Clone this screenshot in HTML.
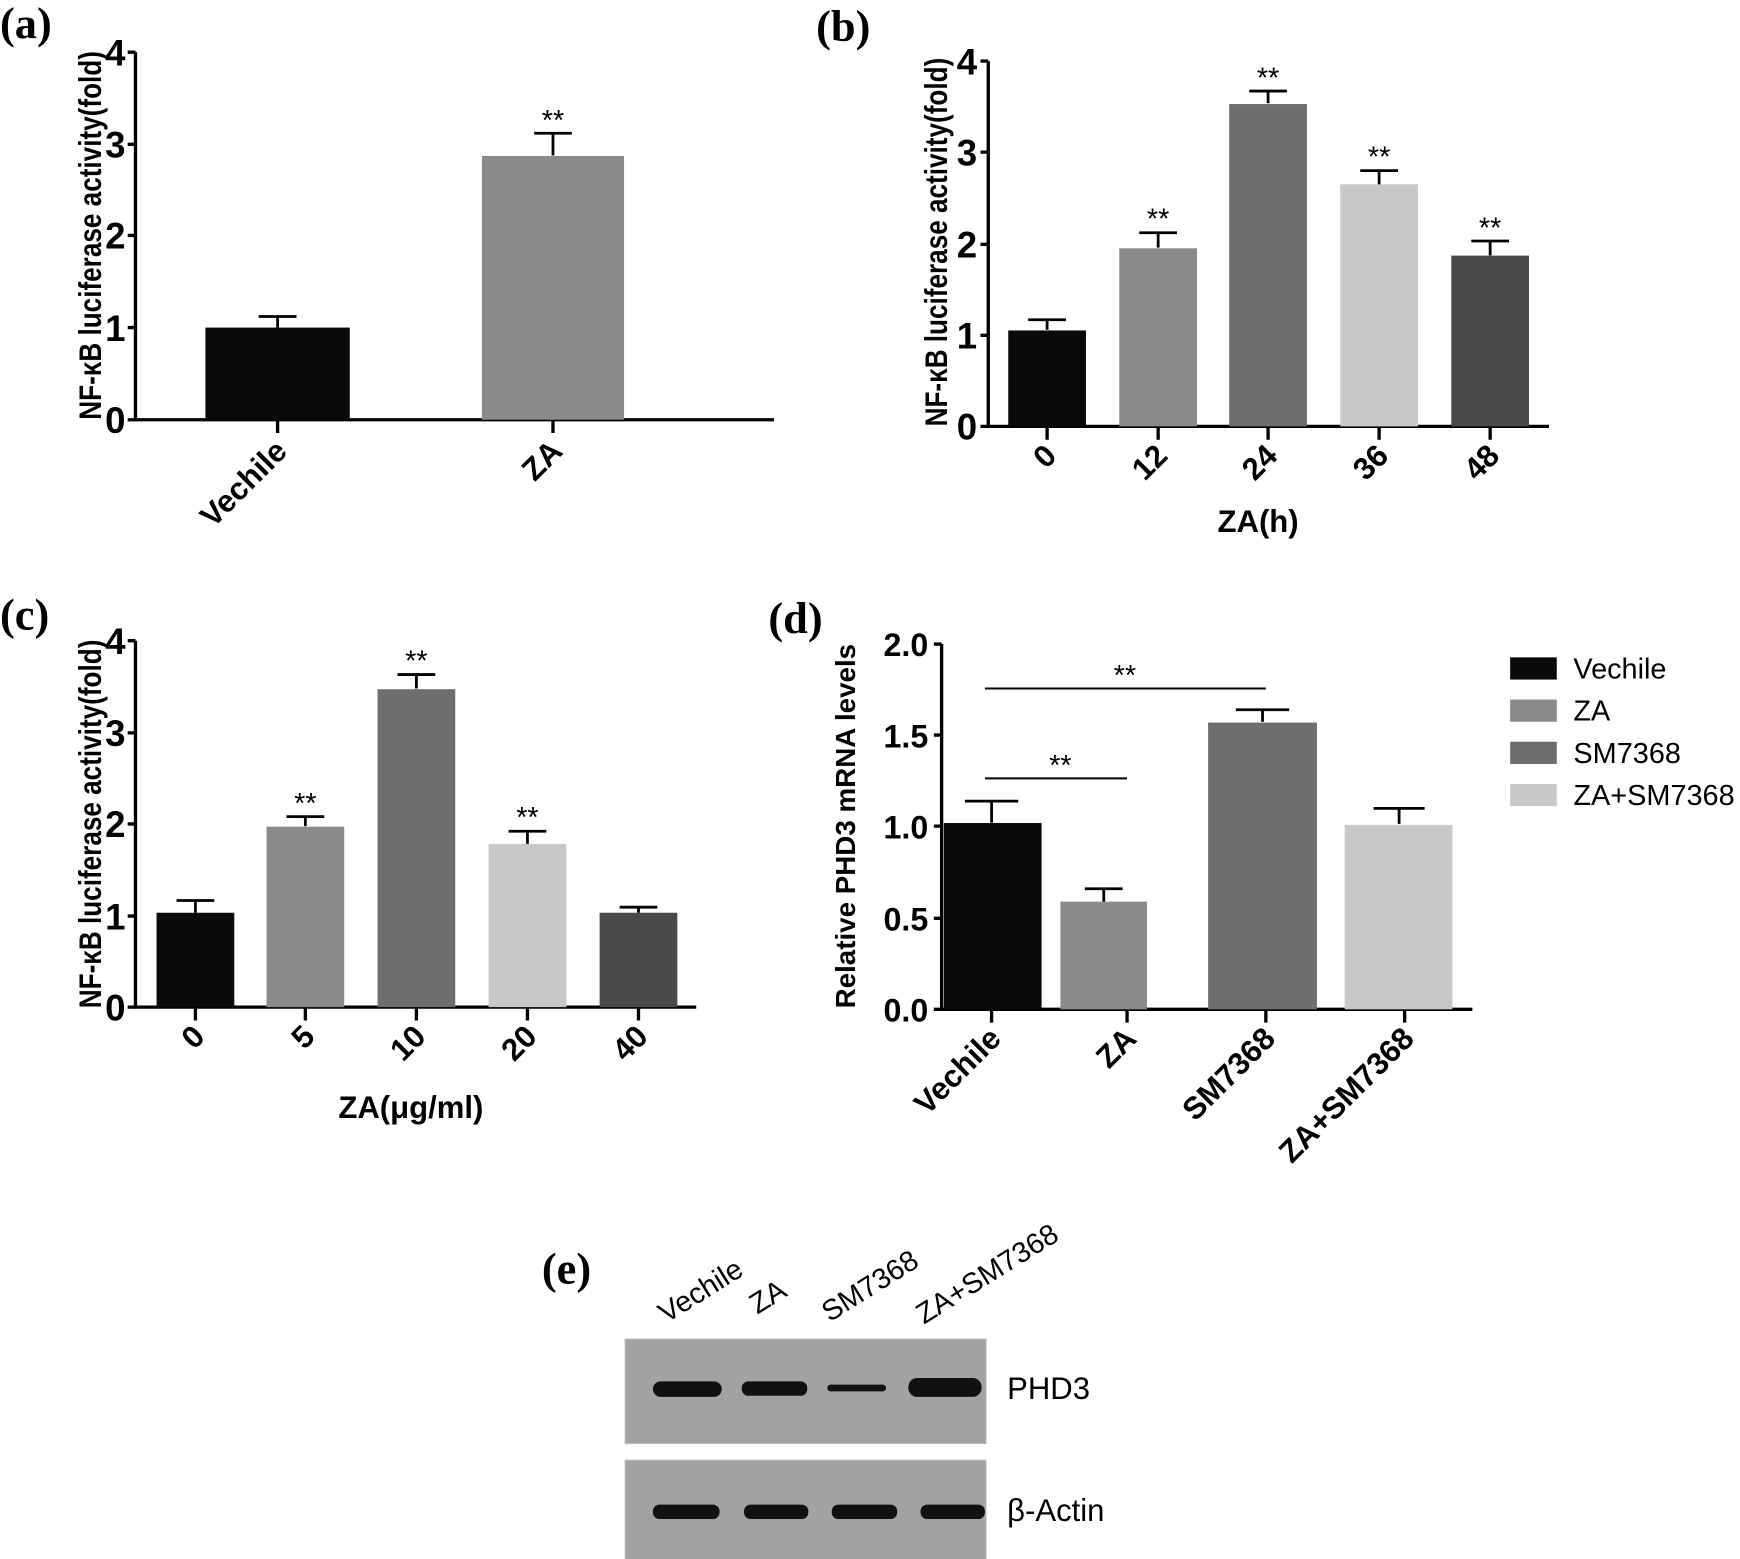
<!DOCTYPE html>
<html><head><meta charset="utf-8"><style>html,body{margin:0;padding:0;background:#fff}svg{display:block}</style></head><body>
<svg width="1740" height="1559" viewBox="0 0 1567 1404" xmlns="http://www.w3.org/2000/svg" font-family="Liberation Sans, Arial, sans-serif">
<g font-family="Liberation Serif, serif" font-weight="bold" font-size="40">
<text x="0" y="34">(a)</text><text x="735" y="37">(b)</text><text x="0" y="567">(c)</text><text x="692" y="570">(d)</text><text x="488" y="1156">(e)</text>
</g>
<!-- (a) -->
<g stroke="#000" stroke-width="3" fill="none">
<path d="M122,47V378H697"/>
<path d="M115,47H122M115,130H122M115,212H122M115,295H122M115,378H122"/>
<path d="M250,378V390M498,378V390"/>
</g>
<rect x="185" y="295" width="130" height="83" fill="#0a0a0a"/>
<rect x="434" y="140.5" width="128" height="237.5" fill="#8a8a8a"/>
<g stroke="#000" stroke-width="2.5"><path d="M250,295V285M233,285H267M498,140V120M481,120H515"/></g>
<text x="498" y="117" font-size="26" text-anchor="middle">**</text>
<g font-size="33" font-weight="bold" text-anchor="end">
<text x="113" y="59">4</text><text x="113" y="142">3</text><text x="113" y="224">2</text><text x="113" y="307">1</text><text x="113" y="390">0</text>
<text transform="translate(260,408) rotate(-45)" font-size="28">Vechile</text>
<text transform="translate(508,408) rotate(-45)" font-size="28">ZA</text>
</g>
<text transform="translate(91,212) rotate(-90)" font-size="28" font-weight="bold" text-anchor="middle" textLength="332" lengthAdjust="spacingAndGlyphs">NF-κB luciferase activity(fold)</text>
<!-- (b) -->
<g stroke="#000" stroke-width="3" fill="none">
<path d="M890,55V384H1395"/>
<path d="M883,55H890M883,137H890M883,220H890M883,302H890M883,384H890"/>
<path d="M943,384V396M1043,384V396M1142,384V396M1242,384V396M1342,384V396"/>
</g>
<rect x="908" y="297.6" width="70" height="86.4" fill="#0a0a0a"/>
<rect x="1008" y="223.6" width="70" height="160.4" fill="#8a8a8a"/>
<rect x="1107" y="93.7" width="70" height="290.3" fill="#6e6e6e"/>
<rect x="1207" y="166" width="70" height="218" fill="#c8c8c8"/>
<rect x="1307" y="230.2" width="70" height="153.8" fill="#4a4a4a"/>
<g stroke="#000" stroke-width="2.5"><path d="M943,297V288M926,288H960M1043,223V209.6M1026,209.6H1060M1142,93V82M1125,82H1159M1242,166V153.7M1225,153.7H1259M1342,230V217M1325,217H1359"/></g>
<g font-size="26" text-anchor="middle"><text x="1043" y="206">**</text><text x="1142" y="79">**</text><text x="1242" y="150">**</text><text x="1342" y="214">**</text></g>
<g font-size="33" font-weight="bold" text-anchor="end">
<text x="880" y="67">4</text><text x="880" y="149">3</text><text x="880" y="232">2</text><text x="880" y="314">1</text><text x="880" y="396">0</text>
<g font-size="28">
<text transform="translate(953,412) rotate(-45)">0</text>
<text transform="translate(1053,412) rotate(-45)">12</text>
<text transform="translate(1152,412) rotate(-45)">24</text>
<text transform="translate(1252,412) rotate(-45)">36</text>
<text transform="translate(1352,412) rotate(-45)">48</text>
</g></g>
<text x="1133" y="479" font-size="28" font-weight="bold" text-anchor="middle">ZA(h)</text>
<text transform="translate(853,218) rotate(-90)" font-size="28" font-weight="bold" text-anchor="middle" textLength="332" lengthAdjust="spacingAndGlyphs">NF-κB luciferase activity(fold)</text>
<!-- (c) -->
<g stroke="#000" stroke-width="3" fill="none">
<path d="M122,577V907H627"/>
<path d="M115,577H122M115,660H122M115,742H122M115,825H122M115,907H122"/>
<path d="M176,907V919M275,907V919M375,907V919M475,907V919M575,907V919"/>
</g>
<rect x="141" y="822" width="70" height="85" fill="#0a0a0a"/>
<rect x="240" y="744.5" width="70" height="162.5" fill="#8a8a8a"/>
<rect x="340" y="620.7" width="70" height="286.3" fill="#6e6e6e"/>
<rect x="440" y="760" width="70" height="147" fill="#c8c8c8"/>
<rect x="540" y="822" width="70" height="85" fill="#4a4a4a"/>
<g stroke="#000" stroke-width="2.5"><path d="M176,822V811M159,811H193M275,744V735.4M258,735.4H292M375,620V607.5M358,607.5H392M475,760V748.6M458,748.6H492M575,822V817M558,817H592"/></g>
<g font-size="26" text-anchor="middle"><text x="275" y="732">**</text><text x="375" y="604">**</text><text x="475" y="745">**</text></g>
<g font-size="33" font-weight="bold" text-anchor="end">
<text x="113" y="589">4</text><text x="113" y="672">3</text><text x="113" y="754">2</text><text x="113" y="837">1</text><text x="113" y="919">0</text>
<g font-size="28">
<text transform="translate(186,935) rotate(-45)">0</text>
<text transform="translate(285,935) rotate(-45)">5</text>
<text transform="translate(385,935) rotate(-45)">10</text>
<text transform="translate(485,935) rotate(-45)">20</text>
<text transform="translate(585,935) rotate(-45)">40</text>
</g></g>
<text x="370" y="1007" font-size="28" font-weight="bold" text-anchor="middle">ZA(μg/ml)</text>
<text transform="translate(91,742) rotate(-90)" font-size="28" font-weight="bold" text-anchor="middle" textLength="332" lengthAdjust="spacingAndGlyphs">NF-κB luciferase activity(fold)</text>
<!-- (d) -->
<g stroke="#000" stroke-width="3" fill="none">
<path d="M848,580V909H1326"/>
<path d="M841,580H848M841,662H848M841,744H848M841,827H848M841,909H848"/>
<path d="M893,909V921M1015,909V921M1140,909V921M1265,909V921"/>
</g>
<rect x="850" y="741.2" width="88" height="167.8" fill="#0a0a0a"/>
<rect x="955" y="812" width="78" height="97" fill="#8a8a8a"/>
<rect x="1088" y="650.7" width="98" height="258.3" fill="#6e6e6e"/>
<rect x="1211" y="742.9" width="97" height="166.1" fill="#c8c8c8"/>
<g stroke="#000" stroke-width="2.5"><path d="M893,741V721.5M869,721.5H917M994,812V800.4M977,800.4H1011M1137,650V639.2M1113,639.2H1161M1260,742V728M1237,728H1283"/>
<path d="M887,620H1140M887,701H1015" stroke-width="1.8"/></g>
<g font-size="26" text-anchor="middle"><text x="1013" y="617">**</text><text x="955" y="698">**</text></g>
<g font-size="29" font-weight="bold" text-anchor="end">
<text x="836" y="591">2.0</text><text x="836" y="673">1.5</text><text x="836" y="755">1.0</text><text x="836" y="838">0.5</text><text x="836" y="920">0.0</text>
<g font-size="28">
<text transform="translate(903,937) rotate(-45)">Vechile</text>
<text transform="translate(1025,937) rotate(-45)">ZA</text>
<text transform="translate(1150,937) rotate(-45)">SM7368</text>
<text transform="translate(1275,937) rotate(-45)">ZA+SM7368</text>
</g></g>
<text transform="translate(770,744) rotate(-90)" font-size="25" font-weight="bold" text-anchor="middle">Relative PHD3 mRNA levels</text>
<rect x="1360" y="592" width="42" height="20" fill="#0a0a0a"/>
<rect x="1360" y="630" width="42" height="20" fill="#8a8a8a"/>
<rect x="1360" y="668" width="42" height="20" fill="#6e6e6e"/>
<rect x="1360" y="706" width="42" height="20" fill="#c8c8c8"/>
<g font-size="26"><text x="1417" y="611">Vechile</text><text x="1417" y="649">ZA</text><text x="1417" y="687">SM7368</text><text x="1417" y="725">ZA+SM7368</text></g>
<!-- (e) -->
<g font-size="26">
<text transform="translate(600,1192) rotate(-32)">Vechile</text>
<text transform="translate(682,1184) rotate(-32)">ZA</text>
<text transform="translate(747,1191) rotate(-32)">SM7368</text>
<text transform="translate(832,1193) rotate(-32)">ZA+SM7368</text>
<text x="907" y="1260" font-size="28">PHD3</text><text x="907" y="1370" font-size="28">β-Actin</text>
</g>
<rect x="563" y="1206" width="325" height="94" fill="#a2a2a2" stroke="#bbb"/>
<rect x="563" y="1315" width="325" height="92" fill="#a2a2a2" stroke="#bbb"/>
<g fill="#111">
<rect x="588" y="1244" width="62" height="14" rx="7"/>
<rect x="668" y="1244" width="59" height="13" rx="6"/>
<rect x="745" y="1247" width="53" height="6" rx="3"/>
<rect x="818" y="1241" width="66" height="17" rx="8"/>
<rect x="588" y="1355" width="60" height="13" rx="6"/>
<rect x="670" y="1355" width="58" height="13" rx="6"/>
<rect x="749" y="1355" width="59" height="13" rx="6"/>
<rect x="829" y="1355" width="58" height="13" rx="6"/>
</g>
</svg>
</body></html>
